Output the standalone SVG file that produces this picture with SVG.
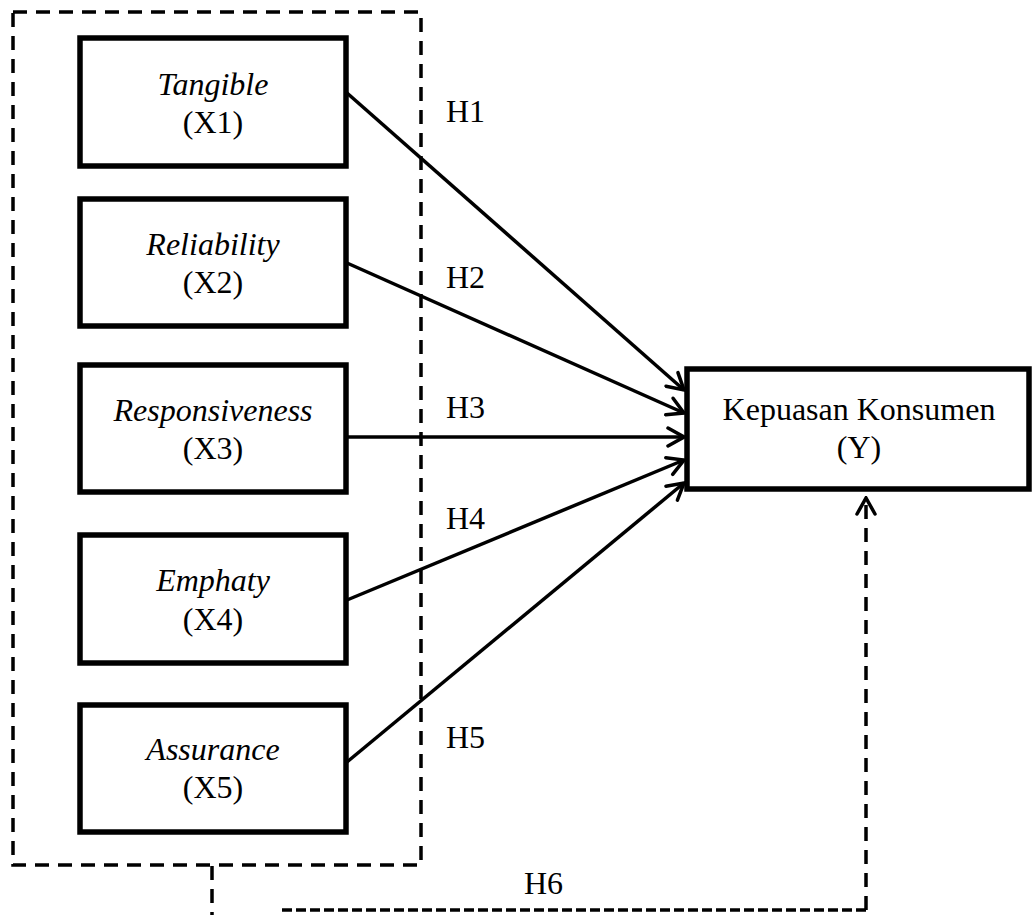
<svg xmlns="http://www.w3.org/2000/svg" width="1032" height="915" viewBox="0 0 1032 915">
<style>
.box{fill:#fff;stroke:#000;stroke-width:5.5}
.t{font-family:"Liberation Serif","Times New Roman",serif;font-size:32px;fill:#000;text-anchor:middle}
.i{font-style:italic}
.h{font-family:"Liberation Serif","Times New Roman",serif;font-size:32px;fill:#000}
.conn{stroke:#000;stroke-width:3.5;fill:none}
.dash{stroke:#000;stroke-width:3.5;fill:none;stroke-dasharray:14 9}
</style>
<defs>
<marker id="arr" viewBox="0 0 22 22" refX="20" refY="11" markerWidth="22" markerHeight="22" markerUnits="userSpaceOnUse" orient="auto">
<path d="M4,2 L20,11 L4,20" fill="none" stroke="#000" stroke-width="3.5" stroke-linecap="round"/>
</marker>
</defs>
<g id="group-box">
<rect x="13" y="12" width="408" height="853" class="dash"/>
</g>
<g id="connectors">
<line x1="347" y1="93" x2="684" y2="390" class="conn" marker-end="url(#arr)"/>
<line x1="347" y1="263" x2="684" y2="413" class="conn" marker-end="url(#arr)"/>
<line x1="347" y1="437" x2="684" y2="437" class="conn" marker-end="url(#arr)"/>
<line x1="347" y1="600" x2="684" y2="460" class="conn" marker-end="url(#arr)"/>
<line x1="347" y1="762" x2="684" y2="483" class="conn" marker-end="url(#arr)"/>
<path d="M212,866 L212,915" class="dash"/>
<path d="M282,910 L866,910" stroke="#000" stroke-width="3.5" fill="none" stroke-dasharray="10 4"/>
<path d="M866,910 L866,498" class="dash" marker-end="url(#arr)"/>
</g>
<g id="labels">
<text x="446" y="122" class="h">H1</text>
<text x="446" y="288" class="h">H2</text>
<text x="446" y="418" class="h">H3</text>
<text x="446" y="529" class="h">H4</text>
<text x="446" y="748" class="h">H5</text>
<text x="524" y="894" class="h">H6</text>
</g>
<g id="x1">
<rect x="80" y="38" width="266" height="128" class="box"/>
<text x="213" y="95" class="t i">Tangible</text>
<text x="213" y="133" class="t">(X1)</text>
</g>
<g id="x2">
<rect x="80" y="199" width="266" height="127" class="box"/>
<text x="213" y="255" class="t i">Reliability</text>
<text x="213" y="293" class="t">(X2)</text>
</g>
<g id="x3">
<rect x="80" y="365" width="266" height="127" class="box"/>
<text x="213" y="421" class="t i">Responsiveness</text>
<text x="213" y="459" class="t">(X3)</text>
</g>
<g id="x4">
<rect x="80" y="535" width="266" height="128" class="box"/>
<text x="213" y="591" class="t i">Emphaty</text>
<text x="213" y="630" class="t">(X4)</text>
</g>
<g id="x5">
<rect x="80" y="705" width="266" height="127" class="box"/>
<text x="213" y="760" class="t i">Assurance</text>
<text x="213" y="798" class="t">(X5)</text>
</g>
<g id="y">
<rect x="687" y="369" width="342" height="120" class="box"/>
<text x="859" y="420" class="t">Kepuasan Konsumen</text>
<text x="859" y="458" class="t">(Y)</text>
</g>
</svg>
